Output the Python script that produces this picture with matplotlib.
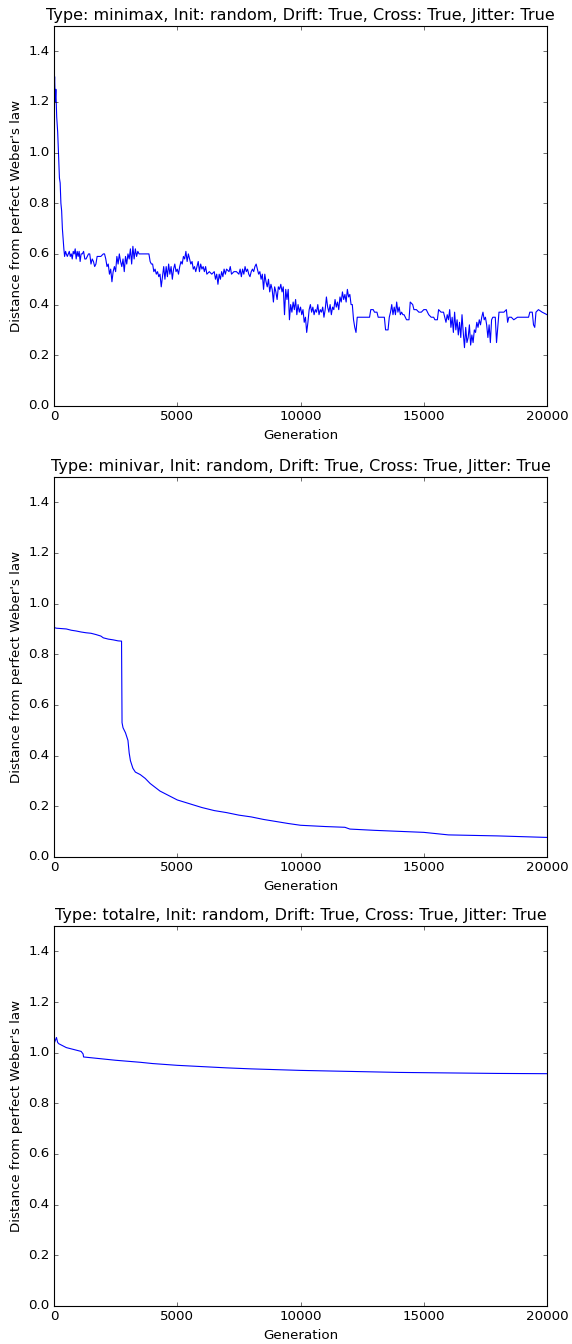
import matplotlib
matplotlib.use("Agg")
import matplotlib.pyplot as plt

plt.style.use("classic")

# minimax run
gen1 = [0, 25, 50, 75, 110, 150, 190, 220, 250, 280, 310, 340, 370, 400, 430, 470, 500, 540, 580, 620,
        660, 700, 740, 780, 820, 860, 900, 940, 980, 1020, 1060, 1100, 1150, 1200, 1250, 1300, 1400, 1450,
        1500, 1550, 1600, 1650, 1700, 1750, 1800, 1900, 2000, 2050, 2100, 2150, 2200, 2250, 2300, 2350,
        2400, 2450, 2500, 2550, 2600, 2650, 2700, 2750, 2800, 2850, 2900, 2950, 3000, 3050, 3100, 3150,
        3200, 3250, 3300, 3350, 3400, 3450, 3500, 3600, 3700, 3800, 3850, 3900, 3950, 4000, 4050, 4100,
        4150, 4200, 4250, 4300, 4350, 4400, 4450, 4500, 4550, 4600, 4650, 4700, 4750, 4800, 4850, 4900,
        4950, 5000, 5050, 5100, 5150, 5200, 5250, 5300, 5350, 5400, 5450, 5500, 5550, 5600, 5650, 5700,
        5750, 5800, 5850, 5900, 5950, 6000, 6050, 6100, 6150, 6200, 6300, 6400, 6500, 6550, 6600, 6650,
        6700, 6750, 6800, 6850, 6900, 6950, 7000, 7100, 7150, 7200, 7300, 7400, 7500, 7550, 7600, 7650,
        7700, 7750, 7800, 7850, 7900, 7950, 8000, 8050, 8100, 8150, 8200, 8250, 8300, 8350, 8400, 8450,
        8500, 8550, 8600, 8650, 8700, 8750, 8800, 8850, 8900, 8950, 9000, 9050, 9100, 9150, 9200, 9250,
        9300, 9350, 9400, 9450, 9500, 9550, 9600, 9650, 9700, 9750, 9800, 9850, 9900, 9950, 10000, 10050,
        10100, 10150, 10200, 10250, 10300, 10350, 10400, 10450, 10500, 10550, 10600, 10650, 10700, 10750,
        10800, 10850, 10900, 10950, 11000, 11050, 11100, 11150, 11200, 11250, 11300, 11350, 11400, 11450,
        11500, 11550, 11600, 11650, 11700, 11750, 11800, 11850, 11900, 11950, 12000, 12050, 12100, 12150,
        12200, 12250, 12300, 12400, 12500, 12600, 12700, 12800, 12850, 12950, 13000, 13100, 13150, 13300,
        13400, 13450, 13550, 13600, 13650, 13700, 13750, 13800, 13850, 13900, 13950, 14000, 14050, 14100,
        14150, 14200, 14300, 14400, 14450, 14550, 14600, 14700, 14800, 14900, 15000, 15100, 15200, 15300,
        15400, 15450, 15550, 15600, 15700, 15800, 15850, 15900, 15950, 16000, 16050, 16100, 16150, 16200,
        16250, 16300, 16350, 16400, 16450, 16500, 16550, 16600, 16650, 16700, 16750, 16800, 16850, 16900,
        16950, 17000, 17050, 17100, 17150, 17200, 17250, 17300, 17350, 17400, 17450, 17500, 17550, 17600,
        17650, 17700, 17750, 17800, 17900, 17950, 18000, 18050, 18150, 18250, 18350, 18400, 18450, 18550,
        18650, 18800, 18950, 19050, 19150, 19250, 19300, 19400, 19450, 19500, 19550, 19650, 19800, 20000]
dist1 = [1.22, 1.30, 1.20, 1.25, 1.14, 1.08, 0.98, 0.90, 0.88, 0.80, 0.77, 0.70, 0.66, 0.62, 0.59, 0.61, 0.60, 0.59, 0.60, 0.61,
         0.59, 0.60, 0.58, 0.61, 0.60, 0.62, 0.58, 0.61, 0.59, 0.61, 0.57, 0.60, 0.60, 0.61, 0.58, 0.58, 0.60, 0.60,
         0.56, 0.58, 0.57, 0.55, 0.56, 0.59, 0.59, 0.59, 0.60, 0.60, 0.58, 0.55, 0.56, 0.52, 0.54, 0.49,
         0.53, 0.55, 0.53, 0.59, 0.56, 0.60, 0.57, 0.55, 0.58, 0.53, 0.59, 0.56, 0.60, 0.58, 0.62, 0.56,
         0.63, 0.58, 0.62, 0.59, 0.61, 0.60, 0.60, 0.60, 0.60, 0.60, 0.60, 0.57, 0.56, 0.56, 0.53, 0.54,
         0.52, 0.53, 0.51, 0.52, 0.47, 0.51, 0.55, 0.50, 0.55, 0.51, 0.56, 0.52, 0.55, 0.50, 0.54, 0.56,
         0.53, 0.54, 0.52, 0.55, 0.57, 0.56, 0.59, 0.58, 0.61, 0.57, 0.60, 0.58, 0.56, 0.57, 0.54, 0.55,
         0.53, 0.55, 0.57, 0.53, 0.56, 0.54, 0.55, 0.53, 0.55, 0.52, 0.53, 0.52, 0.53, 0.50, 0.52, 0.48,
         0.52, 0.50, 0.53, 0.51, 0.54, 0.52, 0.54, 0.53, 0.55, 0.52, 0.53, 0.53, 0.52, 0.54, 0.51, 0.54,
         0.52, 0.55, 0.53, 0.54, 0.52, 0.51, 0.53, 0.54, 0.53, 0.55, 0.56, 0.54, 0.52, 0.53, 0.50, 0.52,
         0.46, 0.52, 0.49, 0.47, 0.50, 0.45, 0.48, 0.46, 0.41, 0.47, 0.45, 0.42, 0.47, 0.46, 0.48, 0.45,
         0.47, 0.36, 0.46, 0.42, 0.46, 0.34, 0.40, 0.37, 0.41, 0.38, 0.42, 0.36, 0.40, 0.37, 0.39, 0.36,
         0.38, 0.33, 0.35, 0.29, 0.33, 0.38, 0.40, 0.37, 0.39, 0.36, 0.38, 0.37, 0.40, 0.36,
         0.38, 0.37, 0.39, 0.35, 0.38, 0.43, 0.39, 0.37, 0.40, 0.36, 0.39, 0.38, 0.42, 0.39,
         0.41, 0.38, 0.43, 0.41, 0.45, 0.42, 0.44, 0.41, 0.46, 0.43, 0.44, 0.40, 0.40, 0.34,
         0.31, 0.29, 0.35, 0.35, 0.35, 0.35, 0.35, 0.35, 0.38, 0.38, 0.37, 0.37, 0.35, 0.35,
         0.35, 0.30, 0.30, 0.35, 0.37, 0.40, 0.36, 0.39, 0.36, 0.41, 0.37, 0.39, 0.36, 0.37,
         0.36, 0.36, 0.34, 0.34, 0.41, 0.40, 0.38, 0.38, 0.37, 0.37, 0.38, 0.38, 0.36, 0.35,
         0.35, 0.34, 0.34, 0.38, 0.37, 0.37, 0.35, 0.33, 0.36, 0.34, 0.38, 0.31, 0.35, 0.29,
         0.37, 0.30, 0.34, 0.28, 0.33, 0.27, 0.36, 0.29, 0.23, 0.31, 0.25, 0.27, 0.32, 0.24,
         0.28, 0.25, 0.30, 0.29, 0.33, 0.31, 0.34, 0.32, 0.35, 0.37, 0.34, 0.35, 0.32, 0.27,
         0.32, 0.25, 0.34, 0.35, 0.35, 0.25, 0.31, 0.37, 0.37, 0.37, 0.38, 0.33, 0.35, 0.35,
         0.34, 0.35, 0.35, 0.35, 0.35, 0.35, 0.37, 0.37, 0.32, 0.31, 0.37, 0.38, 0.37, 0.36]

# minivar run
gen2 = [0, 20, 100, 500, 700, 900, 1100, 1300, 1500, 1700, 1900, 2000, 2200, 2400, 2600, 2740, 2760,
        2800, 2900, 3000, 3050, 3100, 3200, 3300, 3500, 3700, 3900, 4100, 4300, 4500, 4800, 5000, 5500,
        6000, 6500, 7000, 7500, 8000, 8500, 9000, 9500, 10000, 11000, 11800, 12000, 13000, 14000, 15000,
        15500, 16000, 17000, 18000, 19000, 20000]
dist2 = [1.00, 0.905, 0.903, 0.900, 0.895, 0.892, 0.888, 0.885, 0.883, 0.878, 0.872, 0.865, 0.860, 0.857,
         0.853, 0.852, 0.53, 0.51, 0.49, 0.46, 0.41, 0.38, 0.35, 0.335, 0.325, 0.31, 0.29, 0.275, 0.26,
         0.25, 0.235, 0.225, 0.21, 0.195, 0.183, 0.175, 0.165, 0.158, 0.148, 0.140, 0.132, 0.125, 0.120,
         0.117, 0.110, 0.105, 0.101, 0.097, 0.092, 0.087, 0.085, 0.083, 0.080, 0.077]

# totalre run
gen3 = [0, 20, 60, 100, 150, 200, 300, 400, 500, 700, 900, 1100, 1180, 1200, 1500, 2000, 2500, 3000,
        3500, 4000, 5000, 6000, 7000, 8000, 9000, 10000, 12000, 14000, 16000, 18000, 20000]
dist3 = [1.14, 1.04, 1.05, 1.06, 1.04, 1.035, 1.03, 1.025, 1.02, 1.015, 1.01, 1.005, 0.995, 0.983, 0.980,
         0.975, 0.970, 0.966, 0.962, 0.957, 0.950, 0.945, 0.940, 0.936, 0.933, 0.930, 0.926, 0.922, 0.920,
         0.918, 0.917]

runs = [("minimax", gen1, dist1), ("minivar", gen2, dist2), ("totalre", gen3, dist3)]

fig = plt.figure(figsize=(7.15, 16.8), dpi=80, facecolor="white")
bottoms = [0.698, 0.3624, 0.0283]

for (name, g, d), b in zip(runs, bottoms):
    ax = fig.add_axes([0.0944, b, 0.862, 0.2827])
    ax.plot(g, d, color="b", linewidth=1.0)
    ax.set_xlim(0, 20000)
    ax.set_ylim(0, 1.5)
    ax.set_yticks([0.0, 0.2, 0.4, 0.6, 0.8, 1.0, 1.2, 1.4])
    ax.set_xticks([0, 5000, 10000, 15000, 20000])
    ax.set_title("Type: %s, Init: random, Drift: True, Cross: True, Jitter: True" % name)
    ax.set_xlabel("Generation")
    ax.set_ylabel("Distance from perfect Weber's law")

fig.savefig("out.png", dpi=80, facecolor="white")
